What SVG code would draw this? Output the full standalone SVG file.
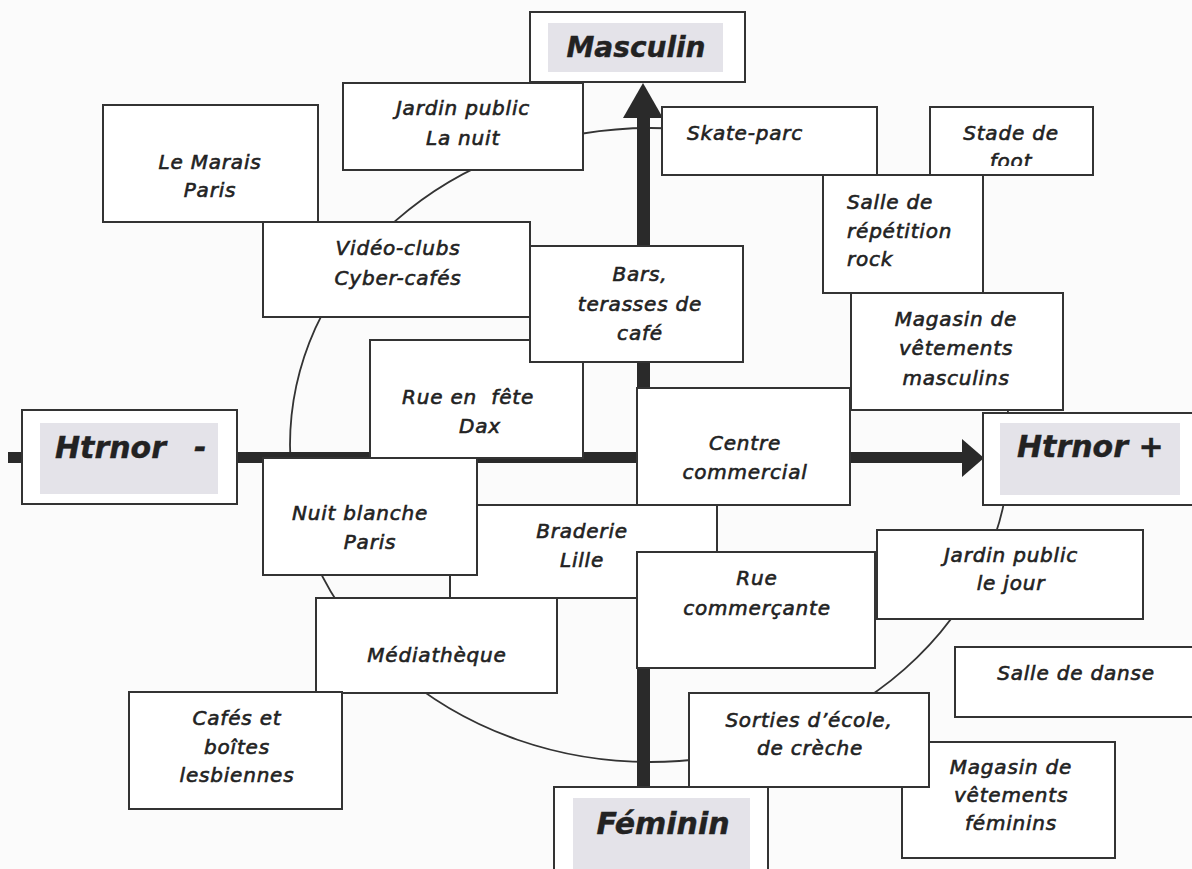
<svg xmlns="http://www.w3.org/2000/svg" width="1192" height="869" viewBox="0 0 1192 869">
<defs>
<clipPath id="clipFoot"><rect x="930" y="140" width="163" height="26"/></clipPath>
</defs>
<style>
.box{fill:#fff;stroke:#333;stroke-width:2}
.lbl{fill:#e4e3e9}
.t{font-family:"DejaVu Sans",sans-serif;font-style:oblique;font-size:20px;letter-spacing:0.8px;fill:#222;text-anchor:middle;stroke:#222;stroke-width:0.6}
.l{text-anchor:start}
.h{font-size:30px;font-weight:bold;letter-spacing:0;stroke-width:0.4}
.m{font-size:28px}
.ax{fill:#2a2a2a}
</style>
<rect width="1192" height="869" fill="#fbfbfb"/>
<g id="cycle">
<ellipse cx="650" cy="445" rx="360" ry="317" fill="none" stroke="#333" stroke-width="1.8"/>
</g>
<g id="connectors">
<rect class="ax" x="8" y="452" width="958" height="11"/>
<polygon class="ax" points="962,439 984,458 962,477"/>
<rect class="ax" x="637" y="115" width="13" height="673"/>
<polygon class="ax" points="643,83 623,118 663,118"/>
</g>
<g id="n-marais"><rect class="box" x="103" y="105" width="215" height="117"/><text class="t" x="210" y="169">Le Marais</text><text class="t" x="210" y="197">Paris</text></g>
<g id="n-jardin-nuit"><rect class="box" x="343" y="83" width="240" height="87"/><text class="t" x="463" y="115">Jardin public</text><text class="t" x="463" y="145">La nuit</text></g>
<g id="n-masculin"><rect class="box" x="530" y="12" width="215" height="70"/><rect class="lbl" x="548" y="23" width="175" height="49"/><text class="t h m" x="636" y="57">Masculin</text></g>
<g id="n-skate"><rect class="box" x="662" y="107" width="215" height="68"/><text class="t l" x="687" y="140">Skate-parc</text></g>
<g id="n-stade"><rect class="box" x="930" y="107" width="163" height="68"/><text class="t" x="1011" y="140">Stade de</text><text class="t" x="1011" y="168" clip-path="url(#clipFoot)">foot</text></g>
<g id="n-salle-rep"><rect class="box" x="823" y="175" width="160" height="118"/><text class="t l" x="847" y="209">Salle de</text><text class="t l" x="847" y="238">répétition</text><text class="t l" x="847" y="266">rock</text></g>
<g id="n-video"><rect class="box" x="263" y="222" width="267" height="95"/><text class="t" x="398" y="255">Vidéo-clubs</text><text class="t" x="398" y="285">Cyber-cafés</text></g>
<g id="n-rue-fete"><rect class="box" x="370" y="340" width="213" height="118"/><text class="t" x="468" y="404" xml:space="preserve">Rue en  fête</text><text class="t" x="480" y="433">Dax</text></g>
<g id="n-bars"><rect class="box" x="530" y="246" width="213" height="116"/><text class="t" x="640" y="281">Bars,</text><text class="t" x="640" y="311">terasses de</text><text class="t" x="640" y="340">café</text></g>
<g id="n-magasin-m"><rect class="box" x="851" y="293" width="212" height="117"/><text class="t" x="956" y="326">Magasin de</text><text class="t" x="956" y="355">vêtements</text><text class="t" x="956" y="385">masculins</text></g>
<g id="n-centre"><rect class="box" x="637" y="388" width="213" height="117"/><text class="t" x="745" y="450">Centre</text><text class="t" x="745" y="479">commercial</text></g>
<g id="n-htrnor-minus"><rect class="box" x="22" y="410" width="215" height="94"/><rect class="lbl" x="40" y="423" width="178" height="71"/><text class="t h l" x="55" y="458">Htrnor<tspan x="194">-</tspan></text></g>
<g id="n-htrnor-plus"><rect class="box" x="983" y="413" width="215" height="92"/><rect class="lbl" x="1000" y="423" width="180" height="72"/><text class="t h l" x="1017" y="457">Htrnor +</text></g>
<g id="n-braderie"><rect class="box" x="450" y="505" width="267" height="93"/><text class="t" x="582" y="538">Braderie</text><text class="t" x="582" y="567">Lille</text></g>
<g id="n-nuit-blanche"><rect class="box" x="263" y="458" width="214" height="117"/><text class="t" x="360" y="520">Nuit blanche</text><text class="t" x="370" y="549">Paris</text></g>
<g id="n-rue-comm"><rect class="box" x="637" y="552" width="238" height="116"/><text class="t" x="757" y="585">Rue</text><text class="t" x="757" y="615">commerçante</text></g>
<g id="n-jardin-jour"><rect class="box" x="877" y="530" width="266" height="89"/><text class="t" x="1011" y="562">Jardin public</text><text class="t" x="1011" y="590">le jour</text></g>
<g id="n-mediatheque"><rect class="box" x="316" y="598" width="241" height="95"/><text class="t" x="437" y="662">Médiathèque</text></g>
<g id="n-salle-danse"><rect class="box" x="955" y="647" width="240" height="70"/><text class="t" x="1076" y="680">Salle de danse</text></g>
<g id="n-cafes"><rect class="box" x="129" y="692" width="213" height="117"/><text class="t" x="237" y="725">Cafés et</text><text class="t" x="237" y="754">boîtes</text><text class="t" x="237" y="782">lesbiennes</text></g>
<g id="n-magasin-f"><rect class="box" x="902" y="742" width="213" height="116"/><text class="t" x="1011" y="774">Magasin de</text><text class="t" x="1011" y="802">vêtements</text><text class="t" x="1011" y="830">féminins</text></g>
<g id="n-sorties"><rect class="box" x="689" y="693" width="240" height="94"/><text class="t" x="809" y="727">Sorties d’école,</text><text class="t" x="810" y="755">de crèche</text></g>
<g id="n-feminin"><rect class="box" x="554" y="787" width="214" height="95"/><rect class="lbl" x="573" y="798" width="177" height="80"/><text class="t h" x="663" y="834">Féminin</text></g>
</svg>
